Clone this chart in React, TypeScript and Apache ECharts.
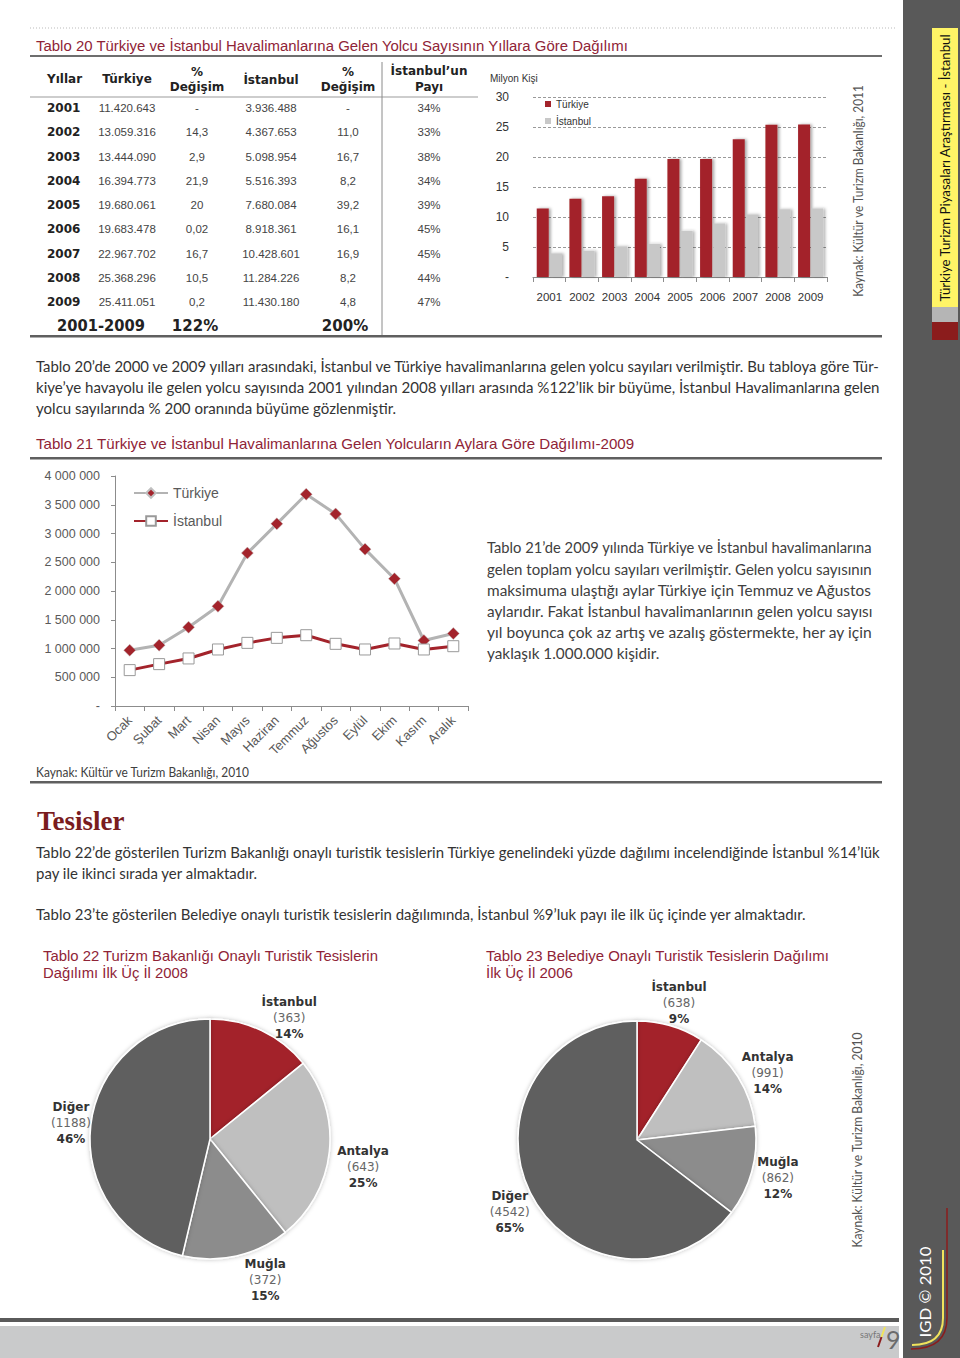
import React, { useEffect, useRef } from "react";
import * as echarts from "echarts";

// ---------- DATA ----------
const years = ["2001", "2002", "2003", "2004", "2005", "2006", "2007", "2008", "2009"];
const turkiyeYolcu = [11420643, 13059316, 13444090, 16394773, 19680061, 19683478, 22967702, 25368296, 25411051];
const turkiyeDegisim = ["-", "14,3", "2,9", "21,9", "20", "0,02", "16,7", "10,5", "0,2"];
const istanbulYolcu = [3936488, 4367653, 5098954, 5516393, 7680084, 8918361, 10428601, 11284226, 11430180];
const istanbulDegisim = ["-", "11,0", "16,7", "8,2", "39,2", "16,1", "16,9", "8,2", "4,8"];
const istanbulPayi = ["34%", "33%", "38%", "34%", "39%", "45%", "45%", "44%", "47%"];
const toplamDonem = "2001-2009";
const toplamTurkiye = "122%";
const toplamIstanbul = "200%";

const aylar = ["Ocak", "Şubat", "Mart", "Nisan", "Mayıs", "Haziran", "Temmuz", "Ağustos", "Eylül", "Ekim", "Kasım", "Aralık"];
const aylikTurkiye = [970000, 1058000, 1370000, 1734000, 2659000, 3168000, 3682000, 3341000, 2728000, 2214000, 1139000, 1260000];
const aylikIstanbul = [624000, 728000, 827000, 983000, 1098000, 1185000, 1231000, 1081000, 983000, 1087000, 983000, 1040000];

const ilAdlari = ["İstanbul", "Antalya", "Muğla", "Diğer"];
const bakanlikTesis2008 = [363, 643, 372, 1188];
const belediyeTesis2006 = [638, 991, 862, 4542];

// ---------- STYLE ----------
const RED = "#a3232b";
const TITLE_RED = "#8f2437";
const PIE_COLORS = ["#a3232b", "#bfbfbf", "#8c8c8c", "#5e5e5e"];
const pie22Nudge = [[-11, 0], [-11, 14], [0, 10], [19, 0]];
const pie23Nudge = [[-28, -9], [-13, 3], [-13, 3], [17, 13]];

let _ctx: CanvasRenderingContext2D | null = null;
function mw(text: string, weight: string, size: number, family: string) {
  if (!_ctx) _ctx = document.createElement("canvas").getContext("2d");
  _ctx!.font = `${weight} ${size}px "${family}"`;
  return _ctx!.measureText(text).width;
}

type TO = { size?: number; family?: string; weight?: string; color?: string; align?: string; va?: string; sx?: number; rot?: number; width?: number };
function T(text: string, x: number, y: number, o: TO = {}) {
  const size = o.size ?? 12;
  const family = o.family ?? "Liberation Sans";
  const weight = o.weight ?? "normal";
  let sx = o.sx ?? 1;
  if (o.width) sx = o.width / mw(text, weight, size, family);
  const align = o.align ?? "left";
  const va = o.va ?? "middle";
  return {
    type: "text",
    x,
    y,
    scaleX: sx,
    rotation: o.rot ?? 0,
    silent: true,
    style: {
      text,
      fill: o.color ?? "#333",
      fontSize: size,
      fontFamily: family,
      fontWeight: weight,
      align,
      verticalAlign: va,
      textAlign: align,
      textVerticalAlign: va,
    },
  };
}
function R(x: number, y: number, w: number, h: number, fill: string) {
  return { type: "rect", silent: true, shape: { x, y, width: w, height: h }, style: { fill } };
}
function L(x1: number, y1: number, x2: number, y2: number, stroke: string, lineWidth: number, lineDash?: number[]) {
  return { type: "line", silent: true, shape: { x1, y1, x2, y2 }, style: { stroke, lineWidth, lineDash } };
}
function para(lines: string[], x0: number, x1: number, y0: number, lh: number, size: number, family: string, color: string, forceRatio?: number) {
  const els: any[] = [];
  const fits = lines.slice(0, -1).map((t) => (x1 - x0) / mw(t, "normal", size, family));
  const sorted = [...fits].sort((a, b) => a - b);
  const med = forceRatio ?? (sorted.length ? sorted[Math.floor(sorted.length / 2)] : 1);
  lines.forEach((t, i) => {
    const last = i === lines.length - 1;
    const sx = last ? med : Math.min(fits[i], med * 1.05);
    els.push(T(t, x0, y0 + i * lh, { size, family, color, sx }));
  });
  return { els, med };
}
const dotted = (v: number) => String(v).replace(/\B(?=(\d{3})+(?!\d))/g, ".");
const spaced = (v: number) => String(v).replace(/\B(?=(\d{3})+(?!\d))/g, " ");

function buildGraphics() {
  const g: any[] = [];
  const BODY = "Lato";
  // sidebar
  g.push(R(903, 0, 57, 1358, "#595959"));
  g.push(R(932, 28, 26, 279, "#fff466"));
  g.push(R(932, 307, 26, 15, "#b5b5b5"));
  g.push(R(932, 322, 26, 18, "#8b1c1c"));
  g.push(T("Türkiye Turizm Piyasaları Araştırması - İstanbul", 945, 168, { size: 14, family: BODY, color: "#111", align: "center", rot: Math.PI / 2, width: 268 }));
  g.push(T("IGD © 2010", 925, 1292, { size: 16, family: BODY, color: "#ffffff", align: "center", rot: Math.PI / 2, width: 91 }));
  g.push(L(947, 1208, 947, 1318, "#8b1c1c", 1.5));
  g.push({ type: "bezierCurve", silent: true, shape: { x1: 947, y1: 1318, x2: 911, y2: 1349, cpx1: 947, cpy1: 1349 }, style: { stroke: "#8b1c1c", lineWidth: 1.5, fill: "none" } });
  g.push(L(943, 1250, 943, 1318, "#f0e35c", 2));
  g.push({ type: "bezierCurve", silent: true, shape: { x1: 943, y1: 1318, x2: 912, y2: 1345, cpx1: 943, cpy1: 1345 }, style: { stroke: "#f0e35c", lineWidth: 2, fill: "none" } });
  // bottom band
  g.push(R(0, 1318, 899, 4, "#5a5a5a"));
  g.push(R(0, 1326, 899, 32, "#c9cacb"));
  g.push(T("sayfa", 860, 1334, { size: 9, family: BODY, color: "#777" }));
  g.push(L(878, 1347, 881.5, 1337, "#8b1c1c", 2));
  g.push(L(881.5, 1337, 885, 1327, "#f0e35c", 2));
  g.push(T("9", 886, 1339, { size: 25, family: BODY, color: "#6b6b6b" }));

  // top rule
  g.push(L(30, 28, 895, 28, "#bbbbbb", 1, [1, 2]));
  // Tablo 20 title
  g.push(T("Tablo 20 Türkiye ve İstanbul Havalimanlarına Gelen Yolcu Sayısının Yıllara Göre Dağılımı", 36, 45, { size: 15, color: TITLE_RED, width: 593 }));
  g.push(R(30, 55, 852, 2, "#6e6e6e"));
  g.push(T("Kaynak: Kültür ve Turizm Bakanlığı, 2011", 858, 191, { size: 13, family: BODY, color: "#555", align: "center", rot: Math.PI / 2, width: 213 }));

  // table
  const HF = "DejaVu Sans";
  const hdr = { size: 12, family: HF, weight: "bold", color: "#222", align: "center" };
  g.push(T("Yıllar", 47, 79, { ...hdr, align: "left" }));
  g.push(T("Türkiye", 127, 79, hdr));
  g.push(T("%", 197, 72, hdr));
  g.push(T("Değişim", 197, 87, hdr));
  g.push(T("İstanbul", 271, 80, hdr));
  g.push(T("%", 348, 72, hdr));
  g.push(T("Değişim", 348, 87, hdr));
  g.push(T("İstanbul’un", 429, 71, hdr));
  g.push(T("Payı", 429, 87, hdr));
  g.push(L(30, 97, 478, 97, "#bdbdbd", 1.5));
  g.push(L(382, 62, 382, 336, "#8a8a8a", 1));
  const cols = [127, 197, 271, 348, 429];
  years.forEach((y, i) => {
    const ry = 108 + i * 24.25;
    g.push(T(y, 47, ry, { size: 12, family: HF, weight: "bold", color: "#222" }));
    const vals = [dotted(turkiyeYolcu[i]), turkiyeDegisim[i], dotted(istanbulYolcu[i]), istanbulDegisim[i], istanbulPayi[i]];
    vals.forEach((v, c) => g.push(T(v, cols[c], ry, { size: 11.5, color: "#444", align: "center" })));
  });
  g.push(T(toplamDonem, 101, 326, { size: 15, family: HF, weight: "bold", color: "#222", align: "center", width: 88 }));
  g.push(T(toplamTurkiye, 195, 326, { size: 15, family: HF, weight: "bold", color: "#222", align: "center" }));
  g.push(T(toplamIstanbul, 345, 326, { size: 15, family: HF, weight: "bold", color: "#222", align: "center" }));
  g.push(R(30, 335, 852, 2.5, "#5f5f5f"));

  g.push(T("Milyon Kişi", 490, 78, { size: 10, color: "#333" }));

  // paragraph 1
  const p1 = para(
    [
      "Tablo 20’de 2000 ve 2009 yılları arasındaki, İstanbul ve Türkiye havalimanlarına gelen yolcu sayıları verilmiştir. Bu tabloya göre Tür-",
      "kiye’ye havayolu ile gelen yolcu sayısında 2001 yılından 2008 yılları arasında %122’lik bir büyüme, İstanbul Havalimanlarına gelen",
      "yolcu sayılarında % 200 oranında büyüme gözlenmiştir.",
    ],
    36, 882, 367, 20.5, 14.5, BODY, "#333"
  );
  g.push(...p1.els);

  // Tablo 21 title
  g.push(T("Tablo 21 Türkiye ve İstanbul Havalimanlarına Gelen Yolcuların Aylara Göre Dağılımı-2009", 36, 444, { size: 15, color: TITLE_RED, width: 600 }));
  g.push(R(30, 457, 852, 2.5, "#5f5f5f"));

  const p21 = para(
    [
      "Tablo 21’de 2009 yılında Türkiye ve İstanbul havalimanlarına",
      "gelen toplam yolcu sayıları verilmiştir. Gelen yolcu sayısının",
      "maksimuma ulaştığı aylar Türkiye için Temmuz ve Ağustos",
      "aylarıdır. Fakat İstanbul havalimanlarının gelen yolcu sayısı",
      "yıl boyunca çok az artış ve azalış göstermekte, her ay için",
      "yaklaşık 1.000.000 kişidir.",
    ],
    487, 873, 548, 21, 14.5, BODY, "#404040"
  );
  g.push(...p21.els);

  g.push(T("Kaynak: Kültür ve Turizm Bakanlığı, 2010", 36, 772, { size: 12.5, family: BODY, color: "#404040", width: 214 }));
  g.push(R(30, 781, 852, 2.5, "#5f5f5f"));

  // Tesisler
  g.push(T("Tesisler", 37, 821, { size: 27, family: "Liberation Serif", weight: "bold", color: "#7a1c1e" }));
  const p2 = para(
    [
      "Tablo 22’de gösterilen Turizm Bakanlığı onaylı turistik tesislerin Türkiye genelindeki yüzde dağılımı incelendiğinde İstanbul %14’lük",
      "pay ile ikinci sırada yer almaktadır.",
    ],
    36, 882, 852, 21, 14.5, BODY, "#333"
  );
  g.push(...p2.els);
  const p3 = para(
    ["Tablo 23’te gösterilen Belediye onaylı turistik tesislerin dağılımında, İstanbul %9’luk payı ile ilk üç içinde yer almaktadır."],
    36, 882, 914, 21, 14.5, BODY, "#333", p2.med
  );
  g.push(...p3.els);

  // pie titles
  g.push(T("Tablo 22 Turizm Bakanlığı Onaylı Turistik Tesislerin", 43, 955, { size: 15, color: TITLE_RED, width: 336 }));
  g.push(T("Dağılımı İlk Üç İl 2008", 43, 973, { size: 15, color: TITLE_RED, width: 145 }));
  g.push(T("Tablo 23 Belediye Onaylı Turistik Tesislerin Dağılımı", 486, 955, { size: 15, color: TITLE_RED, width: 344 }));
  g.push(T("İlk Üç İl 2006", 486, 973, { size: 15, color: TITLE_RED, width: 87 }));
  g.push(T("Kaynak: Kültür ve Turizm Bakanlığı, 2010", 857, 1140, { size: 13, family: BODY, color: "#555", align: "center", rot: Math.PI / 2, width: 216 }));
  return g;
}

function pieSeries(values: number[], center: number[], radius: number, nudge: number[][]) {
  return {
    type: "pie",
    center,
    radius,
    startAngle: 90,
    clockwise: true,
    avoidLabelOverlap: false,
    percentPrecision: 0,
    data: ilAdlari.map((n, i) => ({ name: n, value: values[i], itemStyle: { color: PIE_COLORS[i] } })),
    itemStyle: { borderColor: "#ffffff", borderWidth: 1.5, shadowBlur: 4, shadowColor: "rgba(0,0,0,0.25)" },
    label: {
      position: "outside",
      formatter: "{n|{b}}\n{v|({c})}\n{p|{d}%}",
      rich: {
        n: { fontFamily: "DejaVu Sans", fontWeight: "bold", fontSize: 12, color: "#333", align: "center", lineHeight: 16 },
        v: { fontFamily: "DejaVu Sans", fontSize: 12, color: "#666", align: "center", lineHeight: 16 },
        p: { fontFamily: "DejaVu Sans", fontWeight: "bold", fontSize: 12, color: "#333", align: "center", lineHeight: 16 },
      },
    },
    labelLine: { show: false, length: 14, length2: 0 },
    labelLayout: (p: any) => ({ dx: nudge[p.dataIndex][0], dy: nudge[p.dataIndex][1] }),
    emphasis: { disabled: true },
  };
}

function buildOption() {
  const axisGray = "#8c8c8c";
  return {
    animation: false,
    backgroundColor: "#ffffff",
    textStyle: { fontFamily: "Liberation Sans" },
    legend: [
      {
        data: ["Türkiye", "İstanbul"],
        orient: "vertical",
        left: 545,
        top: 99,
        padding: 0,
        itemWidth: 6,
        itemHeight: 6,
        itemGap: 7,
        icon: "rect",
        selectedMode: false,
        textStyle: { fontSize: 10, color: "#333", fontFamily: "Liberation Sans", backgroundColor: "#ffffff" },
      },
      {
        data: ["Türkiye (aylık)", "İstanbul (aylık)"],
        formatter: (n: string) => n.replace(" (aylık)", ""),
        orient: "vertical",
        left: 133,
        top: 486,
        padding: 0,
        itemWidth: 34,
        itemHeight: 12,
        itemGap: 14,
        selectedMode: false,
        textStyle: { fontSize: 14, color: "#595959", fontFamily: "Liberation Sans" },
      },
    ],
    grid: [
      { left: 533, top: 97, width: 294, height: 180 },
      { left: 115, top: 476, width: 353, height: 230 },
    ],
    xAxis: [
      {
        type: "category",
        gridIndex: 0,
        data: years,
        axisLine: { lineStyle: { color: axisGray } },
        axisTick: { show: true, length: 5, lineStyle: { color: axisGray } },
        axisLabel: { fontSize: 11.5, color: "#333", margin: 14, interval: 0, fontFamily: "Liberation Sans" },
      },
      {
        type: "category",
        gridIndex: 1,
        data: aylar,
        axisLine: { lineStyle: { color: axisGray } },
        axisTick: { show: true, length: 5, lineStyle: { color: axisGray } },
        axisLabel: { fontSize: 13, color: "#595959", rotate: 45, margin: 12, interval: 0, fontFamily: "Liberation Sans" },
      },
    ],
    yAxis: [
      {
        type: "value",
        gridIndex: 0,
        min: 0,
        max: 30,
        interval: 5,
        axisLine: { show: false },
        axisTick: { show: false },
        splitLine: { lineStyle: { type: [3, 2], color: "#9a9a9a" } },
        axisLabel: { formatter: (v: number) => (v === 0 ? "-" : String(v)), fontSize: 12, color: "#333", margin: 24 },
      },
      {
        type: "value",
        gridIndex: 1,
        min: 0,
        max: 4000000,
        interval: 500000,
        axisLine: { show: true, lineStyle: { color: axisGray } },
        axisTick: { show: true, length: 4, lineStyle: { color: axisGray } },
        splitLine: { show: false },
        axisLabel: { formatter: (v: number) => (v === 0 ? "-" : spaced(v)), fontSize: 12.5, color: "#595959", margin: 15 },
      },
    ],
    series: [
      {
        type: "bar",
        name: "Türkiye",
        xAxisIndex: 0,
        yAxisIndex: 0,
        data: turkiyeYolcu.map((v) => v / 1e6),
        barWidth: 12,
        barGap: "10%",
        itemStyle: { color: RED, shadowColor: "rgba(0,0,0,0.35)", shadowBlur: 3, shadowOffsetX: 2 },
      },
      {
        type: "bar",
        name: "İstanbul",
        xAxisIndex: 0,
        yAxisIndex: 0,
        data: istanbulYolcu.map((v) => v / 1e6),
        barWidth: 12,
        barGap: "10%",
        itemStyle: { color: "#c8c8c8", shadowColor: "rgba(0,0,0,0.3)", shadowBlur: 3, shadowOffsetX: 2 },
      },
      {
        type: "line",
        name: "Türkiye (aylık)",
        xAxisIndex: 1,
        yAxisIndex: 1,
        data: aylikTurkiye,
        symbol: "diamond",
        symbolSize: 12,
        lineStyle: { color: "#b3b3b3", width: 3 },
        itemStyle: { color: RED, borderColor: "#c0c0c0", borderWidth: 0.5 },
      },
      {
        type: "line",
        name: "İstanbul (aylık)",
        xAxisIndex: 1,
        yAxisIndex: 1,
        data: aylikIstanbul,
        symbol: "rect",
        symbolSize: 11,
        lineStyle: { color: RED, width: 3 },
        itemStyle: { color: "#ffffff", borderColor: "#999999", borderWidth: 1 },
      },
      pieSeries(bakanlikTesis2008, [210, 1139], 120, pie22Nudge),
      pieSeries(belediyeTesis2006, [637, 1140], 119, pie23Nudge),
    ],
    graphic: buildGraphics(),
  };
}

export default function App() {
  const ref = useRef<HTMLDivElement>(null);
  useEffect(() => {
    const chart = echarts.init(ref.current!, null, { renderer: "svg", width: 960, height: 1358 });
    chart.setOption(buildOption() as any);
    return () => chart.dispose();
  }, []);
  return <div ref={ref} style={{ position: "absolute", left: 0, top: 0, width: 960, height: 1358, background: "#fff" }} />;
}
